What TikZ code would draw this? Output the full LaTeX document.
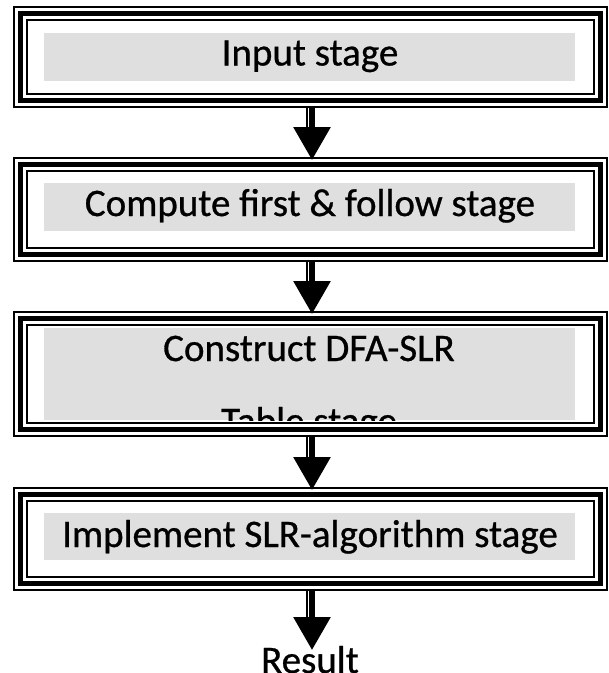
\documentclass[tikz,border=0pt]{standalone}
\usepackage{fontspec}
\setmainfont{Carlito}[UprightFeatures={FakeBold=0.7}]
\usetikzlibrary{calc,arrows.meta}
\definecolor{barfill}{HTML}{DFDFDF}
\tikzset{
  thinrule/.style={draw=black, line width=1.3pt},
  thickrule/.style={draw=black, line width=5.5pt},
  stageframe/.style={thinrule, minimum width=593pt, inner sep=0pt, outer sep=0pt},
  stagebar/.style={fill=barfill, minimum width=531pt, inner sep=0pt, outer sep=0pt},
  stagetext/.style={font=\fontsize{39pt}{47pt}\selectfont, inner sep=0pt, anchor=base},
  flowthick/.style={line width=6pt, -{Triangle[width=36pt,length=33pt]}},
  flowthin/.style={line width=1.3pt, shorten >=33pt},
}
% thick and inner thin rules of a triple frame
\newcommand\framelines[1]{%
  \draw[thickrule] ($(#1.south west)+(6.5,6.5)$) rectangle ($(#1.north east)+(-6.5,-6.5)$);
  \draw[thinrule] ($(#1.south west)+(13,13)$) rectangle ($(#1.north east)+(-13,-13)$);}
% a flow arrow: thin rule beside a thick shaft with a solid head
\newcommand\flowarrow[2]{%
  \draw[flowthin] ($(#1.south)+(-3.5,0)$) -- ($(#2)+(-3.5,0)$);
  \draw[flowthick] ($(#1.south)+(1.5,0)$) -- ($(#2)+(1.5,0)$);}

\begin{document}
\begin{tikzpicture}[x=1pt,y=1pt]
\useasboundingbox (0,0) rectangle (609,-673);

% stage 1
\node[stageframe, minimum height=100pt] (b1) at (310.5,-57) {};
\framelines{b1}
\node[stagebar, minimum height=48pt] (g1) at (309.5,-57) {};
\node[stagetext] (t1) at (310,-65.5) {Input stage};

% stage 2
\node[stageframe, minimum height=103pt] (b2) at (310.5,-209.5) {};
\framelines{b2}
\node[stagebar, minimum height=48pt] (g2) at (309.5,-207) {};
\node[stagetext] (t2) at (310,-216) {Compute first \& follow stage};

% stage 3 (text runs past the grey area and is cut off)
\node[stageframe, minimum height=124pt] (b3) at (310.5,-374) {};
\node[stagebar, minimum height=92pt] (g3) at (309.5,-374) {};
\begin{scope}
  \clip (g3.south west) rectangle (g3.north east);
  \node[stagetext] (t3a) at (309,-361) {Construct DFA-SLR};
  \node[stagetext] (t3b) at (309,-434) {Table stage};
\end{scope}
\framelines{b3}

% stage 4
\node[stageframe, minimum height=102pt] (b4) at (310.5,-539) {};
\framelines{b4}
\node[stagebar, minimum height=47pt] (g4) at (309.5,-536.5) {};
\node[stagetext] (t4) at (310,-547) {Implement SLR-algorithm stage};

% result
\node[stagetext] (res) at (310,-673) {Result};
\coordinate (resin) at ($(res.base)+(0.5,23)$);

% connectors
\coordinate (in2) at ($(b2.north)+(0,-2)$);
\coordinate (in3) at ($(b3.north)+(0,-2)$);
\coordinate (in4) at ($(b4.north)+(0,-2)$);
\flowarrow{b1}{in2}
\flowarrow{b2}{in3}
\flowarrow{b3}{in4}
\flowarrow{b4}{resin}
\end{tikzpicture}
\end{document}
